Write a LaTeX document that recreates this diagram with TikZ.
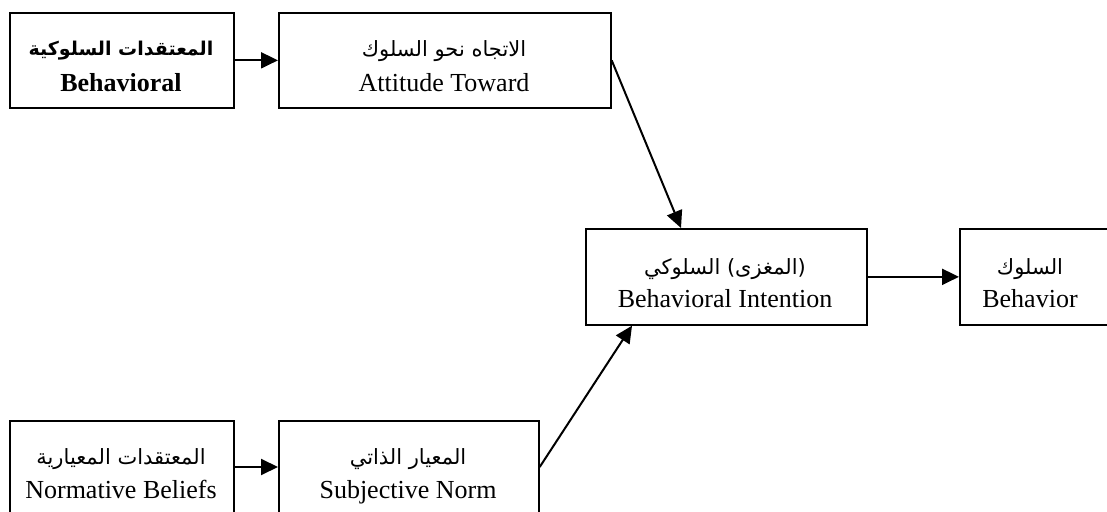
\documentclass[tikz,border=0pt]{standalone}
\usepackage{fontspec}
\setmainfont{Liberation Serif}
\newfontfamily\arabicfont[Script=Arabic]{DejaVu Sans}
\TeXXeTstate=1
\usetikzlibrary{arrows.meta,calc}
\begin{document}
\begin{tikzpicture}[x=0.5pt,y=-0.5pt,
  box/.style={draw,line width=0.85pt,inner sep=0pt,anchor=north west},
  en/.style={anchor=base,inner sep=0pt,font=\fontsize{13}{15}\selectfont},
  ar/.style={anchor=base,inner sep=0pt,font=\fontsize{10.5}{13}\arabicfont},
  link/.style={line width=1pt,-{Triangle[length=8.5pt,width=8pt]}}]
\useasboundingbox (0,0) rectangle (1107,512);
% boxes
\node[box,minimum width=112pt,minimum height=47.5pt] (b1) at (9,12) {};
\node[box,minimum width=166pt,minimum height=47.5pt] (b2) at (278,12) {};
\node[box,minimum width=140.5pt,minimum height=48pt] (b3) at (585,228) {};
\node[box,minimum width=100pt,minimum height=48pt] (b4) at (959,228) {};
\node[box,minimum width=112pt,minimum height=50pt] (b5) at (9,420) {};
\node[box,minimum width=130pt,minimum height=50pt] (b6) at (278,420) {};
% texts
\node[ar,font=\fontsize{9.5}{12}\arabicfont\bfseries] (t1a) at (121,56) {\beginR المعتقدات السلوكية\endR};
\node[en,font=\fontsize{13}{15}\selectfont\bfseries] (t1e) at (121,92) {Behavioral};
\node[ar] (t2a) at (444,57) {\beginR الاتجاه نحو السلوك\endR};
\node[en] (t2e) at (444,92) {Attitude Toward};
\node[ar] (t3a) at (725,275) {\beginR (المغزى) السلوكي\endR};
\node[en] (t3e) at (725,308) {Behavioral Intention};
\node[ar] (t4a) at (1030,275) {\beginR السلوك\endR};
\node[en] (t4e) at (1030,308) {Behavior};
\node[ar] (t5a) at (121,465) {\beginR المعتقدات المعيارية\endR};
\node[en] (t5e) at (121,498) {Normative Beliefs};
\node[ar] (t6a) at (408,465) {\beginR المعيار الذاتي\endR};
\node[en] (t6e) at (408,498) {Subjective Norm};
% anchor points
\coordinate (b3in1) at ($(b3.north west)+(96,0)$);
\coordinate (b3in2) at ($(b3.south west)+(47,0)$);
\coordinate (b6out) at ($(b6.north east)+(0,47)$);
% arrows
\draw[link] (b1.east) -- (b2.west);
\draw[link] (b2.east) -- (b3in1);
\draw[link] (b6out) -- (b3in2);
\draw[link] (b3.east) -- (b4.west);
\draw[link] (b5.east |- b6out) -- (b6.west |- b6out);
\end{tikzpicture}
\end{document}
